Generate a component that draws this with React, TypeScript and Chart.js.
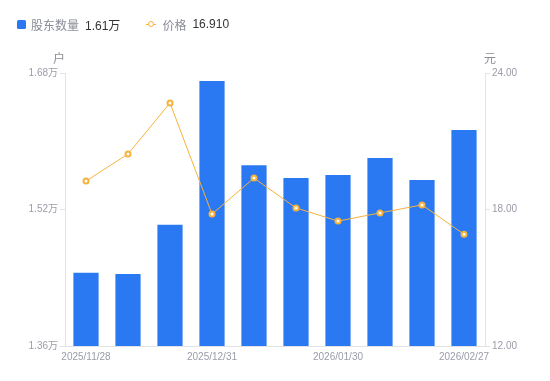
import React, { useEffect, useRef } from "react";
import { Chart, registerables } from "chart.js";

Chart.register(...registerables);

const categories = [
  "2025/11/28", "2025/12/10", "2025/12/19", "2025/12/31", "2026/01/09",
  "2026/01/20", "2026/01/30", "2026/02/06", "2026/02/13", "2026/02/27",
];
const holders = [1.446, 1.4445, 1.502, 1.6705, 1.572, 1.557, 1.5605, 1.5805, 1.5545, 1.6132];
const prices = [19.25, 20.44, 22.68, 17.8, 19.38, 18.07, 17.49, 17.85, 18.2, 16.91];
const shownLabelIdx = [0, 3, 6, 9];
const leftTicks = [1.36, 1.52, 1.68];
const rightTicks = [12, 18, 24];

const FONT = "'Liberation Sans', 'Noto Sans CJK SC', sans-serif";
const TICK_COLOR = "#9a9ca8";
const AXIS_COLOR = "#e3e3e6";
const BAR_COLOR = "#2a79f3";
const LINE_COLOR = "#f7b23b";

export default function App() {
  const ref = useRef<HTMLCanvasElement | null>(null);
  useEffect(() => {
    if (!ref.current) return;
    const chart = new Chart(ref.current, {
      data: {
        labels: categories,
        datasets: [
          {
            type: "line",
            label: "价格",
            data: prices,
            yAxisID: "y1",
            borderColor: LINE_COLOR,
            borderWidth: 1,
            pointRadius: 2.5,
            pointBorderWidth: 2,
            pointBackgroundColor: "#ffffff",
            pointBorderColor: LINE_COLOR,
            tension: 0,
            order: 0,
          },
          {
            type: "bar",
            label: "股东数量",
            data: holders,
            yAxisID: "y",
            backgroundColor: BAR_COLOR,
            barPercentage: 0.6,
            categoryPercentage: 1,
            order: 1,
          },
        ],
      },
      options: {
        animation: false,
        responsive: false,
        maintainAspectRatio: false,
        layout: { padding: { top: 73, bottom: 0, left: 0, right: 0 } },
        plugins: { legend: { display: false }, tooltip: { enabled: false } },
        scales: {
          x: {
            offset: true,
            grid: { display: false, drawTicks: false },
            border: { display: true, color: AXIS_COLOR },
            ticks: {
              autoSkip: false,
              maxRotation: 0,
              padding: 5,
              color: TICK_COLOR,
              font: { family: FONT, size: 10 },
              callback: (_v: any, i: number) => (shownLabelIdx.includes(i) ? categories[i] : ""),
            },
            afterFit: (s: any) => { s.height = 35; },
          },
          y: {
            position: "left",
            min: 1.36,
            max: 1.68,
            afterBuildTicks: (s: any) => { s.ticks = leftTicks.map((v) => ({ value: v })); },
            grid: { drawOnChartArea: false, drawTicks: true, tickLength: 5, color: AXIS_COLOR },
            border: { display: true, color: AXIS_COLOR },
            ticks: {
              padding: 2,
              color: TICK_COLOR,
              font: { family: FONT, size: 10 },
              callback: (v: any) => Number(v).toFixed(2) + "万",
            },
            afterFit: (s: any) => { s.width = 65; },
          },
          y1: {
            position: "right",
            min: 12,
            max: 24,
            afterBuildTicks: (s: any) => { s.ticks = rightTicks.map((v) => ({ value: v })); },
            grid: { drawOnChartArea: false, drawTicks: true, tickLength: 5, color: AXIS_COLOR },
            border: { display: true, color: AXIS_COLOR },
            ticks: {
              padding: 2,
              color: TICK_COLOR,
              font: { family: FONT, size: 10 },
              callback: (v: any) => Number(v).toFixed(2),
            },
            afterFit: (s: any) => { s.width = 65; },
          },
        },
      },
    } as any);
    return () => chart.destroy();
  }, []);

  const legendText: React.CSSProperties = { fontSize: 12, color: "#8a8c96", fontFamily: FONT };
  const legendVal: React.CSSProperties = { fontSize: 12, color: "#333", fontFamily: FONT, marginLeft: 6 };

  return (
    <div style={{ position: "fixed", left: 0, top: 0, width: 550, height: 381, background: "#fff" }}>
      <canvas ref={ref} width={550} height={381} style={{ position: "absolute", left: 0, top: 0 }} />
      <div style={{ position: "absolute", left: 17, top: 16, display: "flex", alignItems: "center", height: 16 }}>
        <span style={{ width: 9, height: 9, background: BAR_COLOR, borderRadius: 1.5, display: "inline-block", marginRight: 5 }} />
        <span style={legendText}>股东数量</span>
        <span style={legendVal}>{"1.61万"}</span>
        <span style={{ position: "relative", width: 10, height: 10, marginLeft: 26, marginRight: 6, display: "inline-block" }}>
          <span style={{ position: "absolute", left: 0, top: 4.5, width: 10, height: 1, background: LINE_COLOR }} />
          <span style={{ position: "absolute", left: 1.5, top: 1.5, width: 4, height: 4, border: `1.5px solid ${LINE_COLOR}`, borderRadius: "50%", background: "#fff" }} />
        </span>
        <span style={legendText}>价格</span>
        <span style={legendVal}>{"16.910"}</span>
      </div>
      <div style={{ position: "absolute", left: 53, top: 49, ...legendText, fontSize: 12 }}>户</div>
      <div style={{ position: "absolute", left: 484, top: 49, ...legendText, fontSize: 12 }}>元</div>
    </div>
  );
}
